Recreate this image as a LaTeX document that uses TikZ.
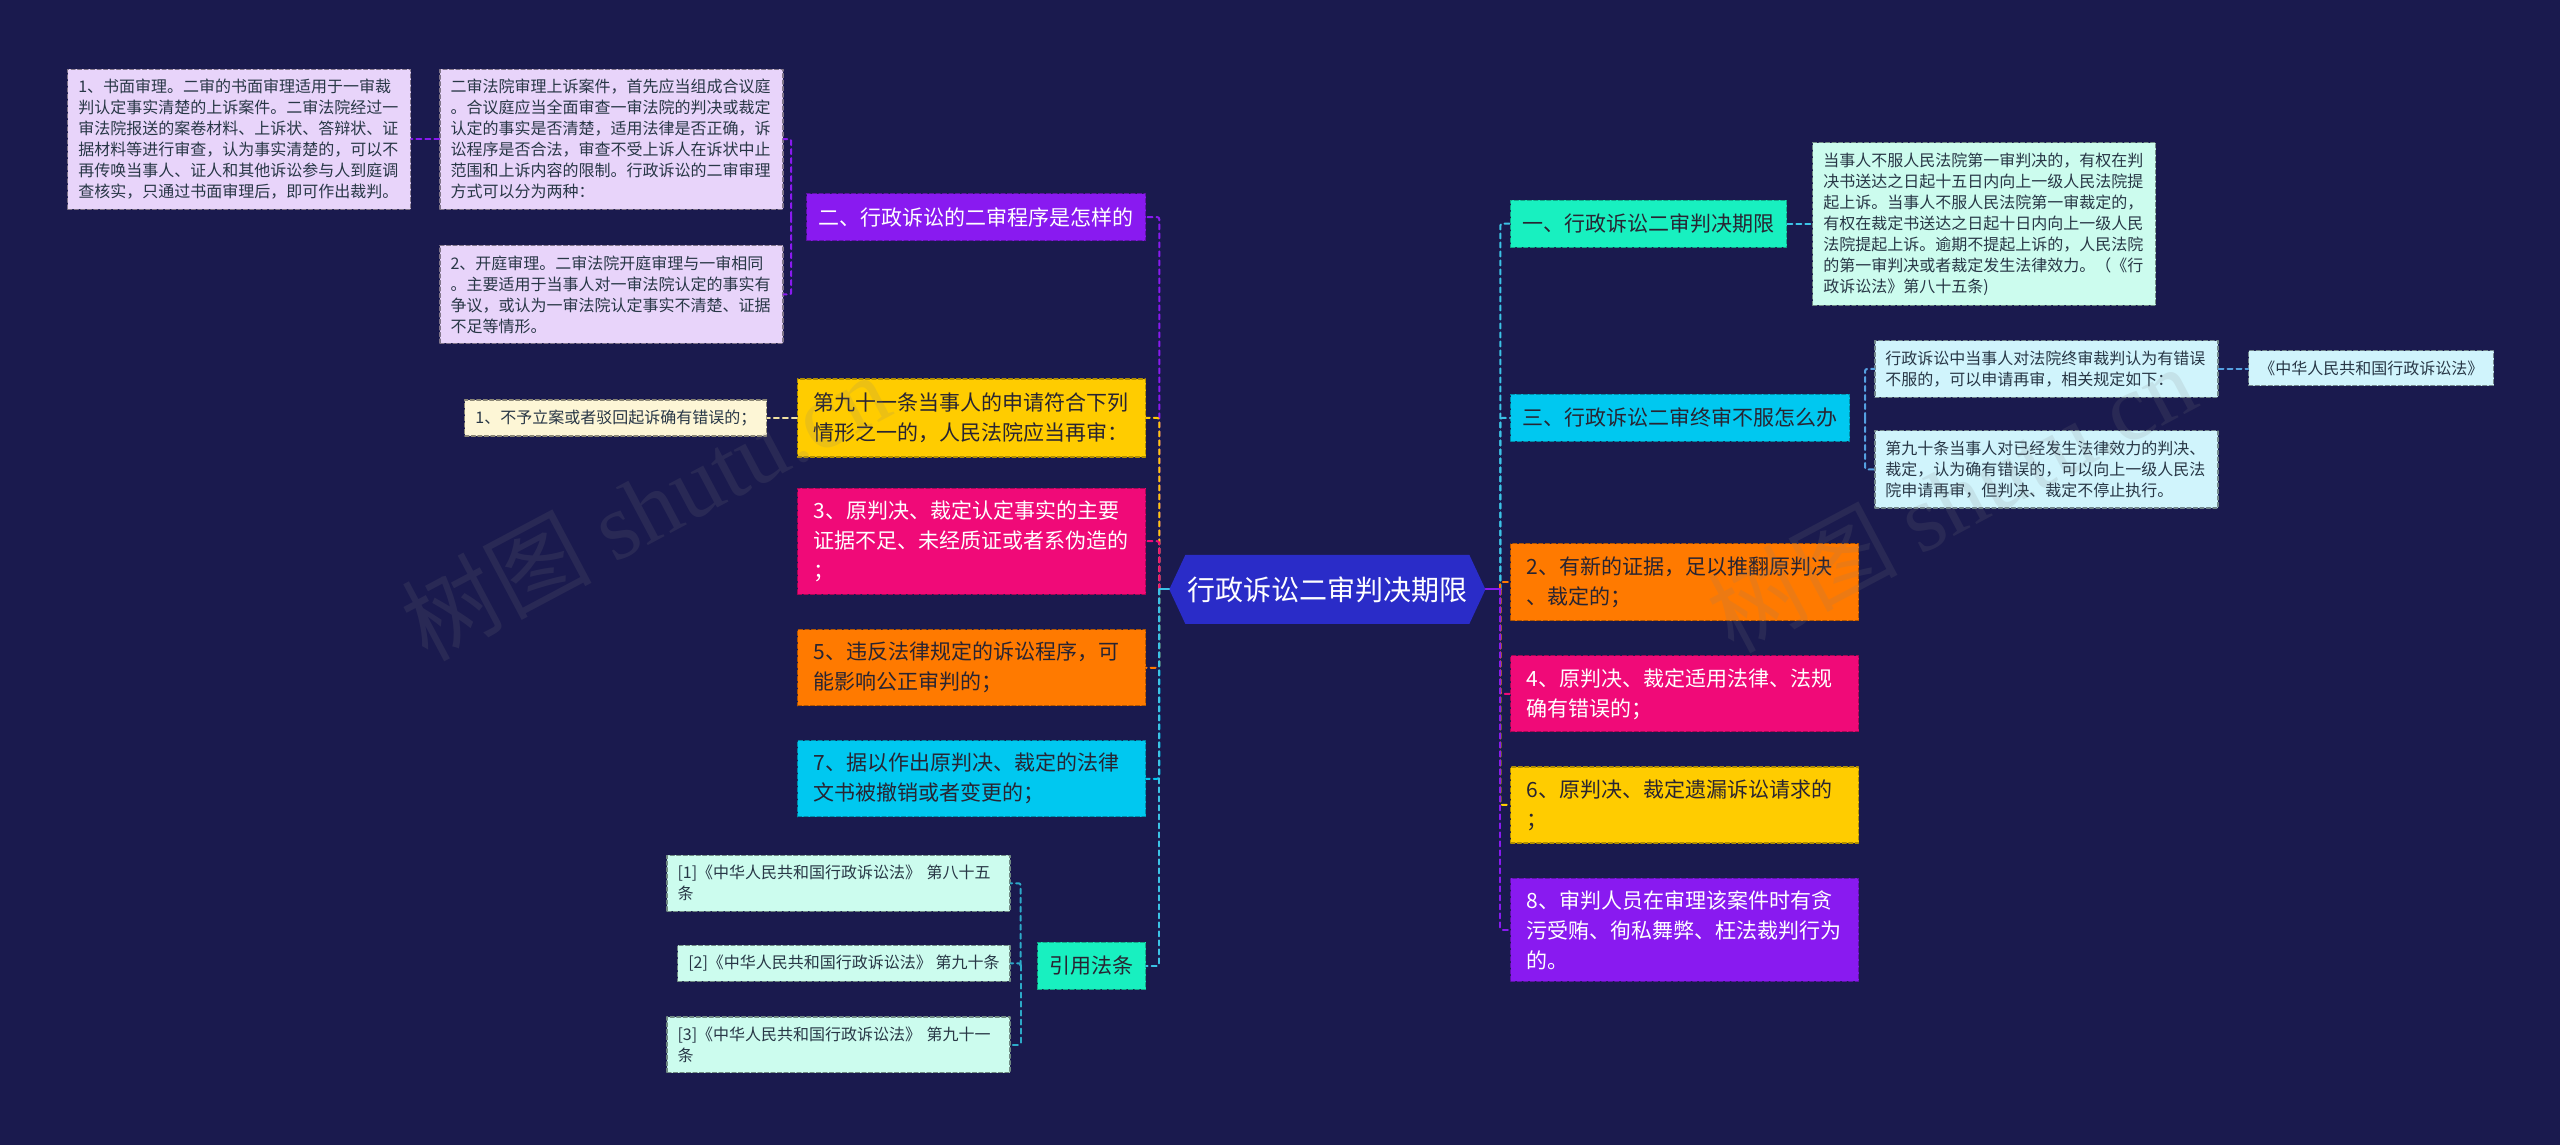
\documentclass[tikz,border=0pt]{standalone}
\usepackage{fontspec}
\setmainfont{Noto Sans CJK SC}
\newfontfamily\wmserif{Liberation Serif}
\usetikzlibrary{shapes.symbols}
\definecolor{bg}{RGB}{26,26,78}
\definecolor{rootblue}{RGB}{42,44,200}
\definecolor{cpurple}{RGB}{137,26,240}
\definecolor{cyellow}{RGB}{255,204,0}
\definecolor{cpink}{RGB}{240,10,120}
\definecolor{corange}{RGB}{255,122,0}
\definecolor{ccyan}{RGB}{0,200,240}
\definecolor{cteal}{RGB}{24,240,192}
\definecolor{clav}{RGB}{232,212,250}
\definecolor{ccream}{RGB}{253,246,214}
\definecolor{cmint}{RGB}{204,252,238}
\definecolor{clcyan}{RGB}{208,244,252}
\definecolor{darktext}{RGB}{40,36,50}
\definecolor{leaftext}{RGB}{40,55,70}
\definecolor{lcyan}{RGB}{60,195,230}
\definecolor{lcite}{RGB}{45,170,200}
\definecolor{lblue}{RGB}{85,160,225}
\definecolor{lcream}{RGB}{240,225,160}
\begin{document}
\begin{tikzpicture}[x=1.6327pt,y=-1.6327pt,line join=round,line cap=round,
  root/.style={shape=signal,signal to=west and east,signal pointer angle=130,fill=rootblue,text=white,
    font=\fontsize{28}{28}\selectfont,minimum width=310pt,minimum height=69pt,inner xsep=2pt},
  mbox/.style={draw=#1!70!black,fill=#1,dash pattern=on 4pt off 2.5pt,line width=1.2pt,text=darktext,
    font=\fontsize{21}{30}\selectfont,inner xsep=12pt,inner ysep=6pt,minimum height=47pt},
  mtext/.style={text width=316pt,align=left,inner xsep=16pt},
  leaf/.style={draw=#1!55!black,fill=#1,dash pattern=on 4pt off 2.5pt,line width=1.2pt,text=leaftext,
    font=\fontsize{16}{21}\selectfont,inner xsep=10.5pt,inner ysep=10pt},
  ltext/.style={text width=322pt,align=left},
  conn/.style={draw=#1,line width=2pt,dash pattern=on 5pt off 4pt,rounded corners=2pt},
  stub/.style={draw=#1,line width=2pt},
  wm/.style={text=gray,opacity=0.15,font=\fontsize{95}{95}\selectfont,rotate=28}]
\path[use as bounding box,fill=bg] (0,0) rectangle (1568,701);

\node[root] (root) at (813,361) {行政诉讼二审判决期限};

\node[mbox=cpurple,text=white,anchor=east] (n2) at (702,133) {二、行政诉讼的二审程序是怎样的};
\node[mbox=cyellow,mtext,anchor=east,minimum height=78pt] (n91) at (702,256) {第九十一条当事人的申请符合下列\\情形之一的，人民法院应当再审：};
\node[mbox=cpink,mtext,text=white,anchor=east,minimum height=106pt] (n3) at (702,331.5) {3、原判决、裁定认定事实的主要\\证据不足、未经质证或者系伪造的\\；};
\node[mbox=corange,mtext,anchor=east,minimum height=76pt] (n5) at (702,409) {5、违反法律规定的诉讼程序，可\\能影响公正审判的；};
\node[mbox=ccyan,mtext,anchor=east,minimum height=76pt] (n7) at (702,477) {7、据以作出原判决、裁定的法律\\文书被撤销或者变更的；};
\node[mbox=cteal,anchor=east] (ncite) at (702,591.5) {引用法条};

\node[mbox=cteal,anchor=west] (n1) at (925,137) {一、行政诉讼二审判决期限};
\node[mbox=ccyan,anchor=west] (n3r) at (925,256) {三、行政诉讼二审终审不服怎么办};
\node[mbox=corange,mtext,anchor=west,minimum height=77pt] (n2r) at (925,356.5) {2、有新的证据，足以推翻原判决\\、裁定的；};
\node[mbox=cpink,mtext,text=white,anchor=west,minimum height=76pt] (n4) at (925,425) {4、原判决、裁定适用法律、法规\\确有错误的；};
\node[mbox=cyellow,mtext,anchor=west,minimum height=76pt] (n6) at (925,493) {6、原判决、裁定遗漏诉讼请求的\\；};
\node[mbox=cpurple,mtext,text=white,anchor=west,minimum height=103pt] (n8) at (925,569.5) {8、审判人员在审理该案件时有贪\\污受贿、徇私舞弊、枉法裁判行为\\的。};

\node[leaf=clav,ltext,anchor=north east] (la) at (480,42) {二审法院审理上诉案件，首先应当组成合议庭\\。合议庭应当全面审查一审法院的判决或裁定\\认定的事实是否清楚，适用法律是否正确，诉\\讼程序是否合法，审查不受上诉人在诉状中止\\范围和上诉内容的限制。行政诉讼的二审审理\\方式可以分为两种：};
\node[leaf=clav,ltext,anchor=north east] (lb) at (480,150) {2、开庭审理。二审法院开庭审理与一审相同\\。主要适用于当事人对一审法院认定的事实有\\争议，或认为一审法院认定事实不清楚、证据\\不足等情形。};
\node[leaf=clav,ltext,anchor=north east] (lc) at (252,42) {1、书面审理。二审的书面审理适用于一审裁\\判认定事实清楚的上诉案件。二审法院经过一\\审法院报送的案卷材料、上诉状、答辩状、证\\据材料等进行审查，认为事实清楚的，可以不\\再传唤当事人、证人和其他诉讼参与人到庭调\\查核实，只通过书面审理后，即可作出裁判。};
\node[leaf=ccream,anchor=east] (ld) at (470,256) {1、不予立案或者驳回起诉确有错误的；};
\node[leaf=cmint,ltext,anchor=east] (c1) at (619,541) {[1]《中华人民共和国行政诉讼法》 第八十五\\条};
\node[leaf=cmint,anchor=east] (c2) at (619,590) {[2]《中华人民共和国行政诉讼法》 第九十条};
\node[leaf=cmint,ltext,anchor=east] (c3) at (619,640) {[3]《中华人民共和国行政诉讼法》 第九十一\\条};

\node[leaf=cmint,ltext,anchor=north west] (r1) at (1110,87) {当事人不服人民法院第一审判决的，有权在判\\决书送达之日起十五日内向上一级人民法院提\\起上诉。当事人不服人民法院第一审裁定的，\\有权在裁定书送达之日起十日内向上一级人民\\法院提起上诉。逾期不提起上诉的，人民法院\\的第一审判决或者裁定发生法律效力。（《行\\政诉讼法》第八十五条)};
\node[leaf=clcyan,ltext,anchor=west] (r3a) at (1148,226) {行政诉讼中当事人对法院终审裁判认为有错误\\不服的，可以申请再审，相关规定如下：};
\node[leaf=clcyan,ltext,anchor=west] (r3b) at (1148,287.5) {第九十条当事人对已经发生法律效力的判决、\\裁定，认为确有错误的，可以向上一级人民法\\院申请再审，但判决、裁定不停止执行。};
\node[leaf=clcyan,anchor=west] (r3c) at (1377,225.5) {《中华人民共和国行政诉讼法》};

\foreach \n/\c in {n2/cpurple,n91/cyellow,n3/cpink,n5/corange,n7/ccyan,ncite/lcyan}
  \draw[conn=\c] (root.west) ++(-6,0) |- (\n.east);
\draw[stub=lcyan] (root.west) -- ++(-6,0);
\foreach \n/\c in {n1/lcyan,n3r/lcyan,n2r/corange,n4/cpink,n6/cyellow,n8/cpurple}
  \draw[conn=\c] (root.east) ++(9,0) |- (\n.west);
\draw[stub=cpurple] (root.east) -- ++(9,0);

\foreach \n in {la,lb}
  \draw[conn=cpurple] (n2.west) ++(-9,0) |- (\n.east);
\draw[conn=cpurple] (la.west) -- (la.west -| lc.east);
\draw[conn=lcream] (n91.west) -- (n91.west -| ld.east);
\foreach \n in {c1,c2,c3}
  \draw[conn=lcite] (ncite.west) ++(-10,0) |- (\n.east);
\draw[conn=lcyan] (n1.east) -- (n1.east -| r1.west);
\foreach \n in {r3a,r3b}
  \draw[conn=lblue] (n3r.east) ++(9,0) |- (\n.west);
\draw[conn=lblue] (r3a.east) -- (r3a.east -| r3c.west);

\node[wm] (wm1) at (395,310) {树图 {\wmserif shutu.cn}};
\node[wm] (wm2) at (1195,305) {树图 {\wmserif shutu.cn}};
\end{tikzpicture}
\end{document}
